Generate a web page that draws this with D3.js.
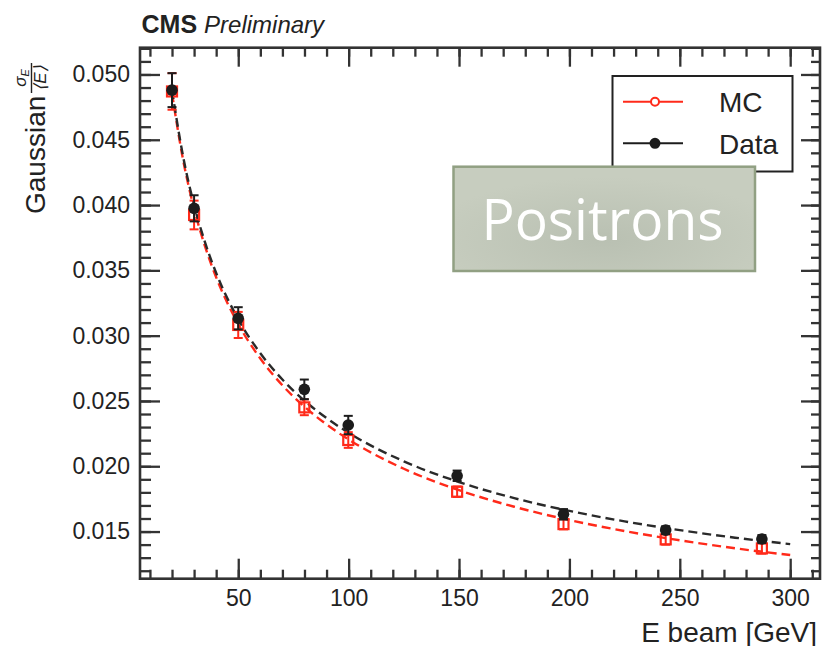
<!DOCTYPE html>
<html>
<head>
<meta charset="utf-8">
<script src="https://cdn.jsdelivr.net/npm/d3@7/dist/d3.min.js"></script>
<style>
  html, body { margin: 0; padding: 0; background: #fff; }
  svg { display: block; }
  text { font-family: "Liberation Sans", Arial, Helvetica, sans-serif; fill: #222; }
</style>
</head>
<body>
<svg id="chart" width="823" height="646"></svg>
<script>
// Beam energies (GeV) of the positron runs
const energies = [20, 30, 49.99, 79.93, 99.83, 149.14, 197.32, 243.61, 287.18];

// Gaussian energy resolution sigma_E / <E>
const dataRes = [0.0488, 0.03975, 0.03133, 0.02589, 0.02316, 0.01927, 0.01632, 0.01511, 0.01443];
const dataErr = [0.0013, 0.0010, 0.00085, 0.00075, 0.0007, 0.0004, 0.0004, 0.0003, 0.0003];
const mcRes   = [0.0487, 0.03924, 0.03082, 0.02451, 0.02201, 0.01805, 0.01557, 0.01440, 0.01371];
const mcErr   = [0.0014, 0.0011, 0.0010, 0.0006, 0.0006, 0.0004, 0.0004, 0.0004, 0.0004];

// Resolution fit curves, sampled along the beam-energy axis
const fitE    = [20, 25, 30, 35, 40, 50, 60, 70, 80, 90, 100, 125, 150, 175, 200, 225, 250, 275, 300];
const fitData = [0.0488, 0.04374, 0.04001, 0.03712, 0.03480, 0.03126, 0.02865, 0.02664, 0.02502, 0.02369,
                 0.02256, 0.02038, 0.01879, 0.01756, 0.01658, 0.01578, 0.01511, 0.01453, 0.01404];
const fitMC   = [0.04856, 0.04348, 0.03973, 0.03681, 0.03447, 0.03089, 0.02825, 0.02620, 0.02456, 0.02320,
                 0.02205, 0.01981, 0.01817, 0.01690, 0.01588, 0.01504, 0.01433, 0.01372, 0.01320];

// Axis ticks
const xMajor = [50, 100, 150, 200, 250, 300];
const xMinor = d3.range(10, 311, 10);
const yMajor = [0.015, 0.020, 0.025, 0.030, 0.035, 0.040, 0.045, 0.050];
const yMinor = d3.range(12, 53, 1).map(v => v / 1000);
const yTickLabels = ["0.015", "0.020", "0.025", "0.030", "0.035", "0.040", "0.045", "0.050"];

const seriesNames = ["MC", "Data"];

const svg = d3.select("#chart");
const L = 140, R = 820, T = 47.7, B = 578.7;

const x = d3.scaleLinear().domain([5.5, 313.5]).range([L, R]);
const y = d3.scaleLinear().domain([0.01139, 0.05205]).range([B, T]);

const RED = "#ff2a1a", BLACK = "#1c1c1c", AX = "#333";

// ---- axes: ROOT style, ticks pointing inwards on all four sides ----
function styleAxis(g) {
  g.select(".domain").remove();
  g.selectAll(".tick line").attr("stroke", AX).attr("stroke-width", 2.3);
  g.selectAll(".tick text").style("font-size", "23px").attr("fill", "#2a2a2a")
    .style("font-family", '"Liberation Sans", Arial, sans-serif');
}

svg.append("g").attr("transform", `translate(0,${B})`)
  .call(d3.axisBottom(x).tickValues(xMinor).tickSize(-9).tickFormat(""))
  .call(styleAxis);
svg.append("g").attr("transform", `translate(0,${B})`)
  .call(d3.axisBottom(x).tickValues(xMajor).tickSize(-20).tickPadding(11).tickFormat(d3.format("d")))
  .call(styleAxis);
svg.append("g").attr("transform", `translate(0,${T})`)
  .call(d3.axisTop(x).tickValues(xMinor).tickSize(-9).tickFormat(""))
  .call(styleAxis);
svg.append("g").attr("transform", `translate(0,${T})`)
  .call(d3.axisTop(x).tickValues(xMajor).tickSize(-19).tickFormat(""))
  .call(styleAxis);

svg.append("g").attr("transform", `translate(${L},0)`)
  .call(d3.axisLeft(y).tickValues(yMinor).tickSize(-11).tickFormat(""))
  .call(styleAxis);
svg.append("g").attr("transform", `translate(${L},0)`)
  .call(d3.axisLeft(y).tickValues(yMajor).tickSize(-20).tickPadding(10)
        .tickFormat((d, i) => yTickLabels[i]))
  .call(styleAxis);
svg.append("g").attr("transform", `translate(${R},0)`)
  .call(d3.axisRight(y).tickValues(yMinor).tickSize(-9).tickFormat(""))
  .call(styleAxis);
svg.append("g").attr("transform", `translate(${R},0)`)
  .call(d3.axisRight(y).tickValues(yMajor).tickSize(-19).tickFormat(""))
  .call(styleAxis);

// frame
svg.append("rect").attr("x", L).attr("y", T).attr("width", R - L).attr("height", B - T)
  .attr("fill", "none").attr("stroke", AX).attr("stroke-width", 2.6);

// ---- fit curves ----
const line = d3.line().curve(d3.curveMonotoneX);
svg.append("path")
  .attr("d", line(fitE.map((e, i) => [x(e), y(fitMC[i])])))
  .attr("fill", "none").attr("stroke", RED).attr("stroke-width", 2.4)
  .attr("stroke-dasharray", "9,5");
svg.append("path")
  .attr("d", line(fitE.map((e, i) => [x(e), y(fitData[i])])))
  .attr("fill", "none").attr("stroke", "#2a2a2a").attr("stroke-width", 2.4)
  .attr("stroke-dasharray", "9,5");

// ---- MC points: open squares with error bars ----
const mc = svg.append("g");
energies.forEach((e, i) => {
  const cx = x(e), cy = y(mcRes[i]);
  const y0 = y(mcRes[i] - mcErr[i]), y1 = y(mcRes[i] + mcErr[i]);
  mc.append("line").attr("x1", cx).attr("x2", cx).attr("y1", y0).attr("y2", y1)
    .attr("stroke", RED).attr("stroke-width", 2);
  [y0, y1].forEach(yy => mc.append("line").attr("x1", cx - 4.5).attr("x2", cx + 4.5)
    .attr("y1", yy).attr("y2", yy).attr("stroke", RED).attr("stroke-width", 2));
  mc.append("rect").attr("x", cx - 5).attr("y", cy - 5).attr("width", 10).attr("height", 10)
    .attr("fill", "none").attr("stroke", RED).attr("stroke-width", 2.2);
});

// ---- Data points: filled circles with error bars ----
const dt = svg.append("g");
energies.forEach((e, i) => {
  const cx = x(e), cy = y(dataRes[i]);
  const y0 = y(dataRes[i] - dataErr[i]), y1 = y(dataRes[i] + dataErr[i]);
  dt.append("line").attr("x1", cx).attr("x2", cx).attr("y1", y0).attr("y2", y1)
    .attr("stroke", BLACK).attr("stroke-width", 2);
  [y0, y1].forEach(yy => dt.append("line").attr("x1", cx - 4.5).attr("x2", cx + 4.5)
    .attr("y1", yy).attr("y2", yy).attr("stroke", BLACK).attr("stroke-width", 2));
  dt.append("circle").attr("cx", cx).attr("cy", cy).attr("r", 5.8).attr("fill", BLACK);
});

// ---- legend ----
const lg = svg.append("g");
lg.append("rect").attr("x", 612.5).attr("y", 76).attr("width", 180).attr("height", 95.5)
  .attr("fill", "#fff").attr("stroke", "#222").attr("stroke-width", 2);
const rows = [
  { name: seriesNames[0], color: RED, y: 101.7, open: true },
  { name: seriesNames[1], color: BLACK, y: 143.3, open: false }
];
rows.forEach(r => {
  lg.append("line").attr("x1", 623).attr("x2", 683).attr("y1", r.y).attr("y2", r.y)
    .attr("stroke", r.color).attr("stroke-width", 2);
  lg.append("circle").attr("cx", 655).attr("cy", r.y).attr("r", r.open ? 4 : 4.5)
    .attr("fill", r.open ? "#fff" : r.color).attr("stroke", r.color).attr("stroke-width", 2);
  lg.append("text").attr("x", 719).attr("y", r.y + 10.5).style("font-size", "28px").text(r.name);
});

// ---- "Positrons" label box ----
const defs = svg.append("defs");
const grad = defs.append("radialGradient").attr("id", "boxFill").attr("cx", "50%").attr("cy", "70%").attr("r", "60%");
grad.append("stop").attr("offset", "0%").attr("stop-color", "#b9c0b2");
grad.append("stop").attr("offset", "100%").attr("stop-color", "#c7cdbf");
svg.append("rect").attr("x", 453.5).attr("y", 166.7).attr("width", 301.5).attr("height", 104.3)
  .attr("fill", "url(#boxFill)").attr("stroke", "#91a083").attr("stroke-width", 2.5);
svg.append("text").attr("x", 481.5).attr("y", 240)
  .attr("textLength", 242).attr("lengthAdjust", "spacingAndGlyphs")
  .style("font-family", '"Open Sans", "Noto Sans", sans-serif').style("font-size", "57px")
  .style("fill", "#fff").text("Positrons");

// ---- titles ----
const head = svg.append("text").attr("x", 141.5).attr("y", 33).style("font-size", "25px");
head.append("tspan").style("font-weight", "bold").text("CMS");
head.append("tspan").attr("dx", 7).style("font-style", "italic").style("font-size", "24px").text("Preliminary");

svg.append("text").attr("x", 817).attr("y", 641.5).attr("text-anchor", "end")
  .style("font-size", "28px").text("E beam [GeV]");

// y title: "Gaussian" followed by the fraction sigma_E / <E>
const yt = svg.append("g").attr("transform", "translate(45,214) rotate(-90)");
yt.append("text").attr("x", 0).attr("y", 0).style("font-size", "28px").text("Gaussian");
const fx = 121, fw = 30;
const num = yt.append("text").attr("x", fx + fw / 2).attr("y", -19).attr("text-anchor", "middle")
  .style("font-size", "17px").style("font-style", "italic");
num.append("tspan").text("σ");
num.append("tspan").attr("dy", 3).style("font-size", "11px").text("E");
yt.append("line").attr("x1", fx).attr("x2", fx + fw).attr("y1", -13.5).attr("y2", -13.5)
  .attr("stroke", "#222").attr("stroke-width", 1.4);
yt.append("text").attr("x", fx + fw / 2).attr("y", 1).attr("text-anchor", "middle")
  .style("font-size", "17px").style("font-style", "italic").text("⟨E⟩");
</script>
</body>
</html>
